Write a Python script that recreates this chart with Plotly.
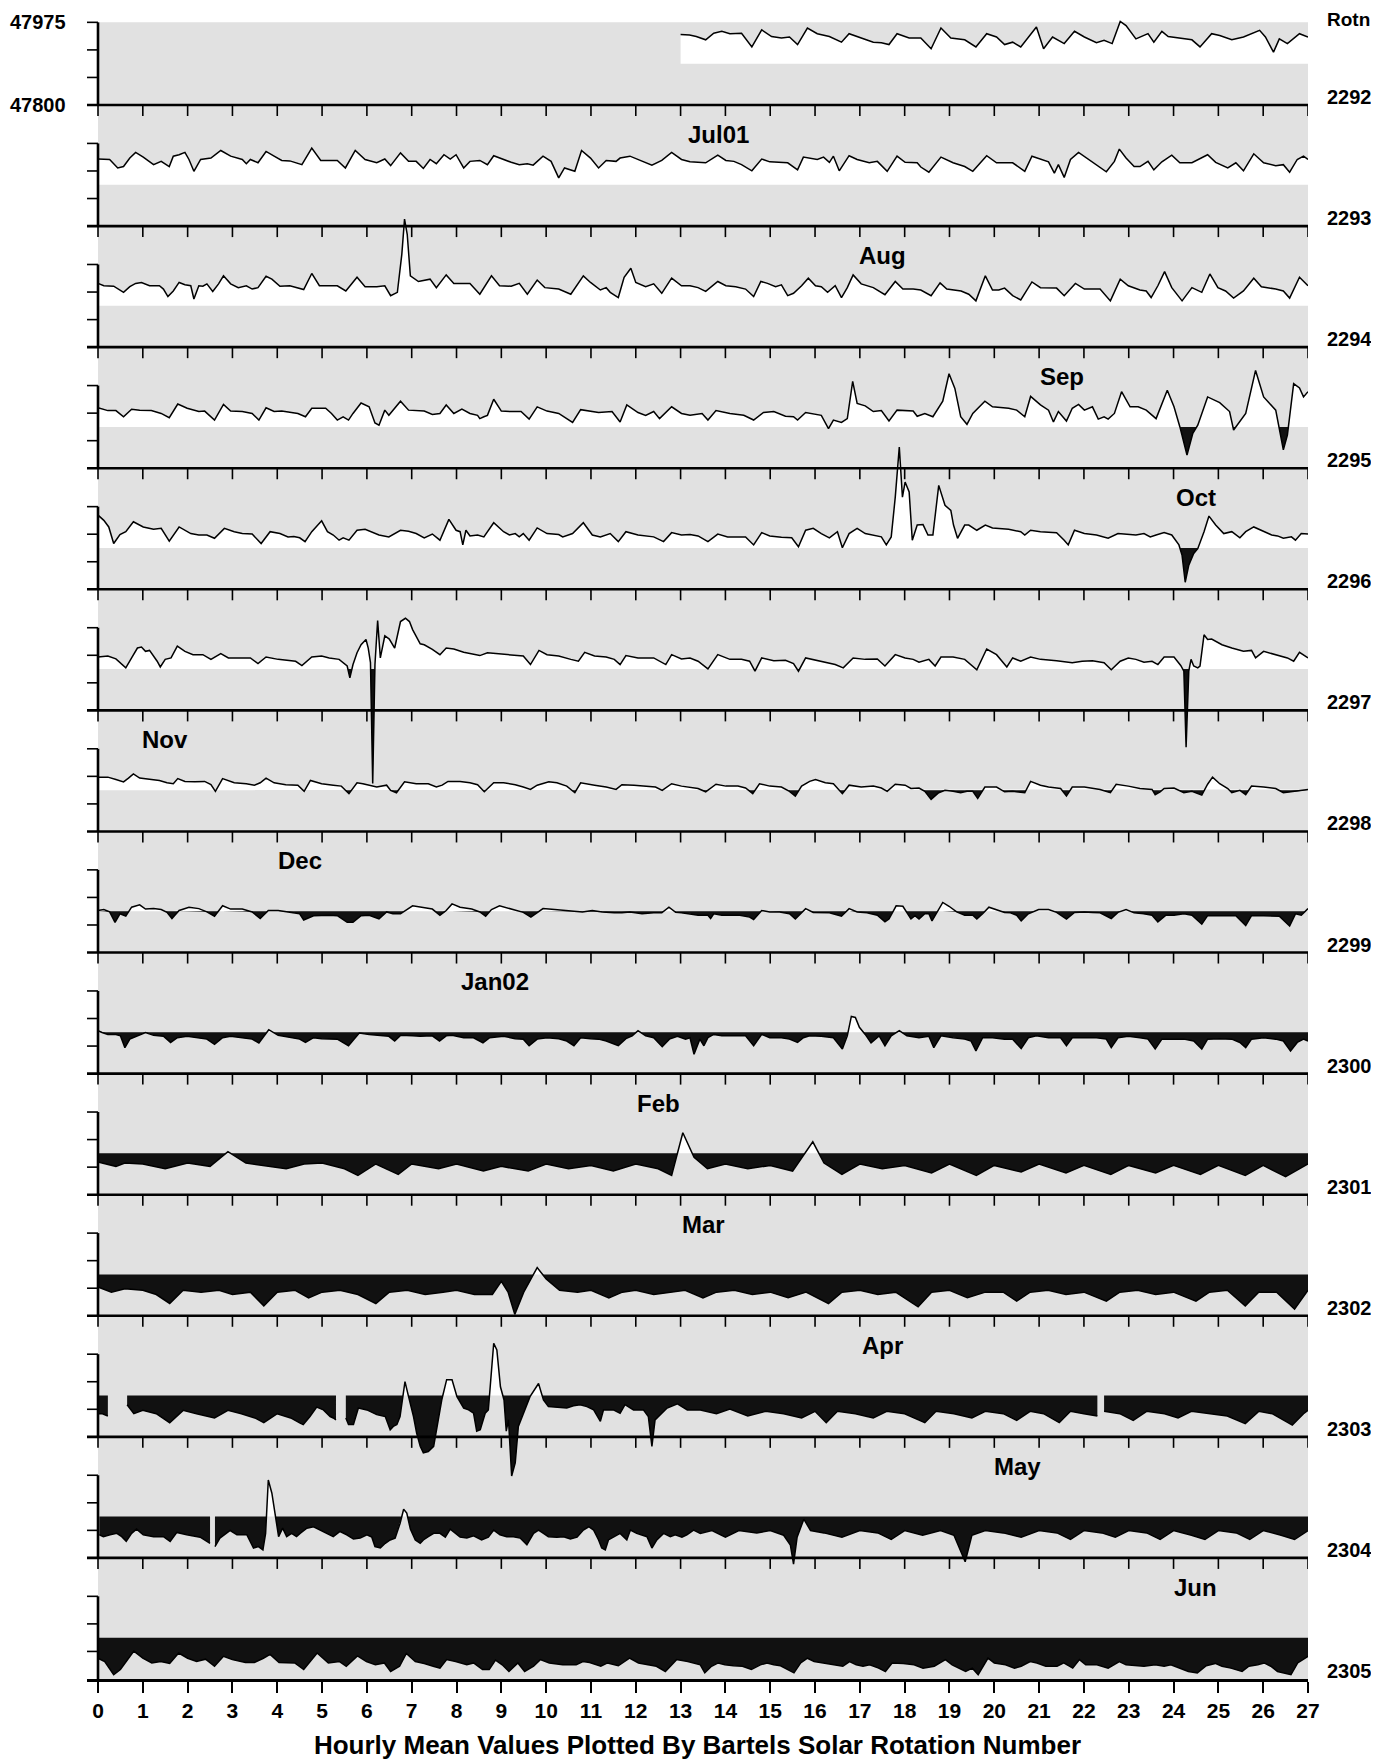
import plotly.graph_objects as go

# ---------------- data: hourly mean values (nT), read as (day, value) keypoints; None = data gap
rot2291 = [(13.0,47949),(13.2,47948),(13.35,47945),(13.56,47938),(13.74,47952),(13.92,47956),(14.1,47951),(14.36,47952),(14.59,47923),(14.81,47959),(15.03,47945),(15.25,47942),(15.43,47944),(15.61,47928),(15.83,47963),(16.05,47951),(16.32,47945),(16.59,47933),(16.76,47951),(16.94,47945),(17.12,47938),(17.3,47933),(17.48,47932),(17.65,47928),(17.83,47951),(18.1,47942),(18.36,47942),(18.59,47919),(18.81,47963),(19.03,47942),(19.34,47938),(19.59,47923),(19.83,47951),(20.05,47944),(20.23,47928),(20.41,47933),(20.59,47923),(20.81,47951),(20.94,47965),(21.1,47919),(21.3,47944),(21.56,47930),(21.79,47956),(22.01,47944),(22.28,47932),(22.45,47937),(22.63,47930),(22.81,47977),(22.94,47968),(23.16,47940),(23.43,47951),(23.56,47933),(23.74,47956),(23.88,47945),(24.23,47940),(24.41,47938),(24.59,47923),(24.85,47951),(25.03,47947),(25.3,47938),(25.56,47944),(25.79,47952),(25.92,47958),(26.05,47944),(26.23,47912),(26.36,47940),(26.54,47930),(26.81,47951),(27.0,47944)]

rot2292 = [(0.0,47942),(0.26,47941),(0.44,47923),(0.57,47926),(0.71,47944),(0.84,47956),(1.01,47946),(1.24,47930),(1.41,47937),(1.59,47926),(1.68,47948),(1.81,47951),(1.94,47956),(2.03,47941),(2.14,47916),(2.29,47941),(2.52,47944),(2.74,47960),(2.96,47948),(3.22,47941),(3.31,47932),(3.4,47941),(3.57,47934),(3.75,47958),(3.93,47948),(4.1,47939),(4.28,47938),(4.55,47930),(4.77,47965),(4.97,47939),(5.34,47939),(5.52,47923),(5.74,47960),(5.96,47941),(6.22,47934),(6.4,47942),(6.53,47928),(6.75,47955),(6.93,47937),(7.1,47937),(7.26,47922),(7.41,47941),(7.55,47932),(7.72,47951),(7.86,47942),(7.99,47951),(8.16,47923),(8.3,47937),(8.52,47939),(8.69,47930),(8.83,47949),(9.05,47941),(9.22,47935),(9.4,47930),(9.58,47932),(9.71,47929),(9.93,47948),(10.11,47937),(10.28,47902),(10.41,47923),(10.64,47916),(10.79,47960),(10.99,47944),(11.17,47923),(11.34,47939),(11.56,47937),(11.65,47944),(11.87,47948),(12.14,47938),(12.36,47929),(12.58,47939),(12.8,47956),(13.02,47941),
           (13.21,47936),(13.56,47934),(13.83,47950),(14.01,47939),(14.19,47937),(14.36,47930),(14.59,47917),(14.81,47942),(14.99,47936),(15.39,47934),(15.61,47919),(15.74,47946),(15.88,47944),(16.05,47941),(16.19,47946),(16.32,47935),(16.41,47948),(16.54,47917),(16.76,47949),(16.94,47941),(17.21,47934),(17.39,47937),(17.61,47916),(17.83,47948),(18.01,47935),(18.28,47934),(18.36,47925),(18.54,47914),(18.81,47946),(19.08,47934),(19.34,47926),(19.52,47916),(19.83,47949),(20.05,47934),(20.41,47934),(20.68,47916),(20.84,47948),(21.03,47941),(21.21,47936),(21.34,47912),(21.43,47930),(21.56,47903),(21.7,47941),(21.88,47956),(22.1,47941),(22.28,47930),(22.5,47915),(22.68,47937),(22.79,47963),(22.94,47944),(23.12,47926),(23.25,47926),(23.43,47937),(23.56,47919),(23.74,47936),(23.96,47950),(24.14,47934),(24.41,47934),(24.76,47951),(24.94,47935),(25.21,47923),(25.39,47934),(25.56,47917),(25.79,47953),(26.01,47934),(26.28,47928),(26.45,47930),(26.59,47914),(26.76,47941),(26.9,47948),(27.0,47941)]

rot2293 = [(0.0,47935),(0.13,47930),(0.35,47929),(0.49,47921),(0.57,47916),(0.71,47928),(0.84,47935),(0.97,47937),(1.15,47930),(1.37,47930),(1.46,47923),(1.56,47907),(1.68,47919),(1.81,47937),(1.94,47932),(2.07,47930),(2.14,47902),(2.25,47930),(2.34,47929),(2.43,47934),(2.56,47918),(2.69,47934),(2.8,47951),(2.96,47934),(3.13,47926),(3.31,47930),(3.44,47923),(3.57,47926),(3.75,47950),(3.88,47944),(4.06,47929),(4.28,47930),(4.46,47925),(4.59,47922),(4.77,47956),(4.94,47930),(5.34,47930),(5.53,47919),(5.78,47948),(5.96,47928),(6.22,47928),(6.4,47930),(6.53,47909),(6.68,47916),(6.78,47997),(6.84,48071),(6.9,48039),(6.97,47951),(7.15,47939),(7.41,47944),(7.55,47926),(7.77,47953),(7.94,47935),(8.3,47935),(8.52,47912),(8.78,47951),(8.96,47930),(9.22,47929),(9.4,47935),(9.58,47912),(9.8,47942),(9.97,47926),(10.28,47923),(10.55,47912),(10.83,47951),(10.99,47937),(11.21,47921),(11.34,47926),(11.43,47916),(11.61,47905),(11.74,47948),(11.89,47967),(12.0,47937),(12.22,47928),(12.4,47934),(12.58,47914),(12.8,47946),(13.02,47930),
           (13.21,47930),(13.39,47926),(13.56,47918),(13.83,47939),(14.01,47930),(14.23,47928),(14.45,47923),(14.63,47907),(14.79,47939),(14.94,47935),(15.12,47928),(15.25,47932),(15.39,47909),(15.52,47914),(15.7,47930),(15.85,47946),(16.01,47930),(16.14,47928),(16.28,47916),(16.45,47930),(16.59,47905),(16.72,47926),(16.85,47953),(17.03,47934),(17.3,47926),(17.56,47911),(17.79,47939),(17.96,47923),(18.19,47923),(18.36,47921),(18.59,47909),(18.79,47936),(18.94,47923),(19.26,47919),(19.43,47912),(19.59,47898),(19.8,47951),(19.96,47921),(20.1,47921),(20.23,47925),(20.41,47909),(20.59,47900),(20.84,47938),(21.03,47926),(21.39,47925),(21.56,47909),(21.81,47935),(22.01,47923),(22.36,47923),(22.59,47898),(22.81,47944),(22.99,47930),(23.25,47921),(23.39,47919),(23.5,47905),(23.65,47930),(23.8,47960),(23.96,47926),(24.19,47898),(24.41,47926),(24.63,47916),(24.81,47955),(24.99,47926),(25.16,47919),(25.34,47904),(25.56,47919),(25.79,47946),(25.96,47928),(26.28,47923),(26.45,47919),(26.59,47904),(26.81,47948),(27.0,47930)]

rot2294 = [(0.0,47928),(0.22,47922),(0.4,47922),(0.57,47909),(0.75,47925),(0.93,47923),(1.19,47922),(1.41,47916),(1.59,47907),(1.78,47936),(1.99,47927),(2.25,47920),(2.38,47921),(2.6,47902),(2.8,47935),(2.96,47921),(3.22,47920),(3.44,47916),(3.59,47902),(3.75,47928),(3.93,47920),(4.1,47921),(4.46,47916),(4.63,47909),(4.77,47927),(4.94,47927),(5.08,47927),(5.21,47916),(5.34,47902),(5.47,47909),(5.59,47902),(5.69,47916),(5.87,47938),(6.05,47930),(6.18,47896),(6.27,47891),(6.4,47923),(6.49,47912),(6.75,47942),(6.93,47923),(7.28,47921),(7.46,47914),(7.63,47916),(7.77,47934),(7.94,47916),(8.12,47925),(8.3,47916),(8.47,47912),(8.52,47905),(8.61,47909),(8.69,47912),(8.83,47946),(9.0,47921),(9.22,47920),(9.44,47920),(9.62,47904),(9.8,47930),(10.02,47921),(10.28,47916),(10.59,47897),(10.77,47924),(11.17,47918),(11.47,47920),(11.65,47898),(11.8,47934),(12.05,47918),(12.22,47912),(12.4,47920),(12.53,47905),(12.8,47930),(13.02,47916),
           (13.21,47912),(13.48,47916),(13.61,47902),(13.79,47922),(14.1,47916),(14.41,47912),(14.63,47902),(14.85,47918),(15.08,47920),(15.34,47910),(15.52,47909),(15.61,47902),(15.79,47918),(16.14,47912),(16.3,47884),(16.41,47902),(16.59,47897),(16.72,47905),(16.84,47984),(16.94,47937),(17.12,47932),(17.3,47920),(17.48,47922),(17.65,47900),(17.83,47923),(18.19,47921),(18.28,47910),(18.45,47916),(18.63,47909),(18.85,47942),(18.99,48000),(19.12,47969),(19.25,47909),(19.39,47893),(19.52,47916),(19.79,47942),(19.96,47930),(20.32,47927),(20.5,47923),(20.68,47909),(20.81,47952),(21.03,47934),(21.21,47923),(21.32,47898),(21.43,47920),(21.61,47900),(21.74,47927),(21.88,47935),(22.01,47923),(22.19,47930),(22.32,47904),(22.45,47909),(22.54,47904),(22.68,47916),(22.84,47962),(23.03,47930),(23.21,47930),(23.39,47923),(23.61,47905),(23.86,47965),(24.01,47930),(24.14,47888),(24.3,47828),(24.43,47874),(24.54,47891),(24.76,47951),(25.03,47939),(25.25,47920),(25.34,47881),(25.48,47900),(25.61,47916),(25.83,48007),(26.01,47951),(26.28,47923),(26.45,47839),(26.54,47870),(26.68,47979),(26.81,47970),(26.9,47951),(27.0,47962)]

rot2295 = [(0.0,47957),(0.13,47946),(0.24,47932),(0.35,47897),(0.49,47916),(0.62,47922),(0.79,47943),(1.01,47932),(1.24,47927),(1.41,47929),(1.59,47902),(1.81,47932),(2.07,47918),(2.25,47915),(2.43,47915),(2.6,47908),(2.82,47929),(3.04,47922),(3.22,47918),(3.44,47917),(3.64,47897),(3.84,47922),(4.06,47918),(4.24,47911),(4.37,47912),(4.5,47909),(4.62,47901),(4.77,47922),(4.99,47945),(5.12,47922),(5.25,47915),(5.38,47904),(5.47,47909),(5.6,47904),(5.78,47925),(5.96,47927),(6.27,47915),(6.49,47911),(6.75,47925),(6.93,47923),(7.1,47918),(7.28,47909),(7.46,47917),(7.63,47904),(7.83,47948),(7.99,47925),(8.08,47922),(8.14,47894),(8.21,47925),(8.3,47913),(8.47,47915),(8.61,47911),(8.83,47941),(9.05,47922),(9.18,47915),(9.31,47918),(9.4,47911),(9.49,47918),(9.62,47904),(9.8,47930),(10.02,47918),(10.28,47916),(10.37,47911),(10.59,47918),(10.83,47941),(11.03,47915),(11.21,47911),(11.43,47918),(11.61,47901),(11.78,47922),(12.05,47915),(12.4,47911),(12.62,47901),(12.8,47920),(13.02,47915),
           (13.21,47916),(13.39,47913),(13.61,47901),(13.83,47917),(14.05,47911),(14.28,47911),(14.45,47911),(14.63,47894),(14.81,47920),(14.99,47913),(15.25,47910),(15.48,47909),(15.63,47890),(15.79,47925),(15.96,47929),(16.14,47918),(16.32,47909),(16.5,47922),(16.61,47888),(16.76,47918),(16.94,47929),(17.12,47918),(17.3,47915),(17.48,47911),(17.59,47894),(17.7,47911),(17.79,47995),(17.88,48101),(17.95,47995),(18.01,48027),(18.1,48006),(18.17,47904),(18.28,47936),(18.41,47937),(18.52,47915),(18.63,47915),(18.76,48020),(18.9,47978),(19.03,47967),(19.09,47936),(19.18,47908),(19.34,47936),(19.43,47936),(19.61,47925),(19.8,47936),(19.96,47930),(20.32,47927),(20.59,47922),(20.68,47915),(20.81,47925),(21.03,47922),(21.39,47920),(21.56,47904),(21.65,47894),(21.79,47925),(22.01,47918),(22.28,47915),(22.54,47908),(22.76,47918),(22.99,47916),(23.16,47915),(23.34,47918),(23.48,47911),(23.61,47915),(23.79,47920),(23.96,47915),(24.12,47894),(24.19,47872),(24.26,47815),(24.34,47851),(24.45,47876),(24.54,47886),(24.68,47922),(24.79,47955),(24.94,47936),(25.12,47918),(25.3,47922),(25.48,47909),(25.61,47922),(25.79,47932),(25.96,47925),(26.19,47915),(26.32,47913),(26.45,47908),(26.63,47911),(26.72,47904),(26.85,47918),(27.0,47917)]

rot2296 = [(0.0,47913),(0.22,47915),(0.4,47909),(0.62,47890),(0.75,47911),(0.88,47932),(0.97,47934),(1.06,47925),(1.15,47927),(1.24,47915),(1.32,47904),(1.39,47892),(1.5,47908),(1.63,47911),(1.77,47936),(1.94,47925),(2.12,47918),(2.34,47918),(2.52,47908),(2.74,47920),(2.91,47911),(3.18,47911),(3.4,47911),(3.57,47899),(3.75,47913),(4.02,47908),(4.28,47906),(4.41,47904),(4.55,47895),(4.77,47913),(4.99,47915),(5.16,47911),(5.38,47908),(5.56,47894),(5.62,47869),(5.69,47897),(5.78,47922),(5.87,47939),(5.98,47950),(6.03,47932),(6.08,47901),(6.13,47645),(6.18,47897),(6.24,47990),(6.3,47911),(6.4,47958),(6.5,47951),(6.62,47932),(6.75,47988),(6.86,47995),(6.95,47988),(7.02,47971),(7.19,47941),(7.28,47939),(7.46,47929),(7.63,47918),(7.77,47932),(7.94,47930),(8.16,47923),(8.52,47916),(8.69,47922),(8.96,47920),(9.22,47918),(9.49,47915),(9.65,47897),(9.84,47927),(10.02,47918),(10.28,47915),(10.55,47908),(10.72,47904),(10.86,47923),(11.08,47915),(11.34,47913),(11.52,47908),(11.65,47897),(11.78,47916),(12.05,47911),(12.4,47911),(12.67,47897),(12.8,47918),(13.02,47909),
           (13.21,47911),(13.39,47904),(13.61,47888),(13.83,47918),(14.1,47908),(14.36,47908),(14.54,47904),(14.66,47883),(14.81,47911),(15.08,47905),(15.34,47906),(15.52,47899),(15.63,47883),(15.79,47911),(16.05,47906),(16.32,47901),(16.45,47897),(16.63,47890),(16.85,47911),(17.12,47908),(17.39,47909),(17.56,47894),(17.79,47918),(18.01,47911),(18.19,47908),(18.32,47902),(18.54,47908),(18.68,47894),(18.81,47913),(19.08,47913),(19.34,47908),(19.61,47886),(19.83,47930),(20.05,47918),(20.28,47892),(20.41,47911),(20.59,47904),(20.81,47913),(21.03,47908),(21.39,47905),(21.74,47901),(21.96,47904),(22.19,47905),(22.45,47901),(22.61,47886),(22.81,47904),(22.99,47911),(23.16,47908),(23.34,47902),(23.52,47904),(23.65,47897),(23.79,47913),(24.01,47913),(24.16,47895),(24.23,47883),(24.28,47722),(24.34,47883),(24.39,47908),(24.45,47894),(24.54,47890),(24.59,47894),(24.68,47960),(24.76,47950),(24.85,47951),(25.08,47939),(25.3,47932),(25.56,47925),(25.74,47927),(25.83,47911),(26.01,47925),(26.28,47918),(26.54,47911),(26.68,47904),(26.81,47923),(27.0,47911)]

rot2297 = [(0.0,47915),(0.22,47915),(0.4,47910),(0.57,47905),(0.68,47913),(0.79,47922),(0.93,47913),(1.15,47910),(1.37,47908),(1.54,47903),(1.68,47901),(1.78,47912),(1.94,47906),(2.16,47905),(2.38,47906),(2.52,47899),(2.62,47885),(2.78,47912),(3.04,47903),(3.31,47901),(3.49,47898),(3.62,47903),(3.75,47913),(3.93,47903),(4.19,47899),(4.46,47898),(4.6,47885),(4.74,47908),(4.99,47901),(5.25,47898),(5.43,47896),(5.6,47880),(5.78,47903),(5.91,47901),(6.22,47894),(6.44,47898),(6.53,47887),(6.66,47882),(6.84,47905),(7.1,47901),(7.37,47901),(7.55,47894),(7.68,47898),(7.81,47906),(8.08,47906),(8.3,47903),(8.47,47899),(8.62,47884),(8.83,47903),(9.05,47903),(9.31,47899),(9.49,47894),(9.65,47889),(9.8,47898),(10.06,47905),(10.24,47903),(10.46,47896),(10.64,47882),(10.77,47903),(11.08,47898),(11.34,47894),(11.56,47889),(11.69,47899),(11.96,47898),(12.22,47896),(12.44,47894),(12.59,47887),(12.8,47901),(13.02,47896),
           (13.21,47894),(13.39,47891),(13.56,47884),(13.79,47900),(14.01,47896),(14.28,47896),(14.45,47892),(14.61,47880),(14.76,47901),(14.99,47896),(15.25,47894),(15.43,47885),(15.56,47875),(15.7,47896),(15.88,47906),(16.01,47910),(16.23,47903),(16.41,47901),(16.61,47880),(16.76,47898),(17.03,47894),(17.3,47896),(17.48,47892),(17.61,47885),(17.79,47900),(18.01,47898),(18.14,47891),(18.32,47892),(18.45,47885),(18.59,47868),(18.76,47882),(18.9,47887),(19.08,47885),(19.25,47882),(19.39,47885),(19.52,47885),(19.63,47870),(19.79,47894),(20.05,47894),(20.23,47884),(20.41,47885),(20.68,47882),(20.81,47906),(21.03,47898),(21.21,47894),(21.48,47891),(21.61,47875),(21.74,47894),(22.01,47894),(22.19,47891),(22.36,47889),(22.59,47882),(22.72,47900),(22.99,47896),(23.25,47891),(23.52,47889),(23.59,47878),(23.7,47884),(23.79,47891),(24.01,47892),(24.23,47882),(24.41,47885),(24.63,47877),(24.76,47900),(24.87,47915),(25.03,47901),(25.21,47891),(25.3,47882),(25.48,47887),(25.61,47878),(25.74,47896),(26.01,47894),(26.28,47891),(26.45,47882),(26.63,47884),(26.81,47887),(27.0,47889)]

rot2298 = [(0.0,47889),(0.13,47891),(0.26,47886),(0.38,47864),(0.49,47882),(0.62,47877),(0.75,47896),(0.93,47901),(1.06,47892),(1.24,47893),(1.41,47891),(1.54,47885),(1.65,47872),(1.81,47889),(2.03,47896),(2.25,47893),(2.43,47886),(2.6,47877),(2.78,47899),(2.96,47892),(3.22,47892),(3.44,47886),(3.62,47872),(3.8,47889),(4.02,47889),(4.28,47886),(4.5,47882),(4.59,47869),(4.81,47878),(5.16,47879),(5.34,47878),(5.56,47864),(5.69,47864),(5.87,47878),(6.05,47879),(6.27,47871),(6.44,47886),(6.58,47882),(6.75,47882),(7.02,47899),(7.19,47896),(7.46,47892),(7.63,47879),(7.77,47889),(7.9,47903),(8.08,47896),(8.34,47892),(8.52,47886),(8.65,47877),(8.78,47891),(8.96,47899),(9.22,47892),(9.49,47885),(9.66,47875),(9.93,47893),(10.19,47891),(10.55,47889),(10.81,47886),(11.03,47889),(11.25,47886),(11.52,47884),(11.69,47884),(11.87,47886),(12.14,47882),(12.4,47884),(12.58,47884),(12.74,47896),(12.89,47885),(13.02,47884),
           (13.21,47882),(13.39,47879),(13.61,47879),(13.67,47872),(13.74,47882),(13.92,47879),(14.1,47879),(14.32,47879),(14.54,47875),(14.63,47870),(14.81,47889),(14.99,47886),(15.21,47886),(15.43,47882),(15.56,47871),(15.79,47893),(15.96,47885),(16.32,47884),(16.59,47877),(16.76,47893),(16.94,47886),(17.16,47884),(17.39,47879),(17.56,47865),(17.65,47871),(17.81,47899),(17.96,47898),(18.05,47885),(18.14,47871),(18.23,47878),(18.32,47871),(18.45,47882),(18.54,47882),(18.61,47867),(18.7,47882),(18.85,47906),(18.99,47898),(19.16,47886),(19.34,47879),(19.52,47879),(19.61,47871),(19.74,47882),(19.88,47896),(20.05,47891),(20.23,47885),(20.36,47884),(20.5,47879),(20.6,47867),(20.76,47882),(20.99,47891),(21.21,47891),(21.39,47885),(21.61,47871),(21.79,47885),(22.01,47886),(22.19,47885),(22.36,47884),(22.61,47872),(22.76,47885),(22.94,47891),(23.12,47884),(23.34,47882),(23.52,47879),(23.65,47865),(23.83,47879),(24.01,47879),(24.23,47882),(24.41,47879),(24.63,47860),(24.76,47878),(24.94,47878),(25.12,47878),(25.39,47878),(25.61,47857),(25.74,47878),(26.01,47878),(26.36,47877),(26.59,47856),(26.72,47882),(26.85,47879),(27.0,47893)]

rot2299 = [(0.0,47891),(0.09,47887),(0.22,47883),(0.4,47883),(0.5,47880),(0.6,47855),(0.71,47873),(0.88,47880),(1.06,47887),(1.24,47881),(1.46,47879),(1.62,47866),(1.77,47876),(1.99,47879),(2.25,47876),(2.43,47873),(2.6,47862),(2.78,47876),(2.96,47879),(3.22,47876),(3.44,47873),(3.59,47865),(3.71,47880),(3.81,47893),(4.02,47881),(4.28,47876),(4.5,47873),(4.63,47866),(4.81,47876),(4.99,47874),(5.34,47873),(5.59,47859),(5.71,47873),(5.83,47886),(6.05,47883),(6.31,47881),(6.49,47879),(6.62,47869),(6.75,47881),(7.02,47880),(7.19,47879),(7.46,47880),(7.62,47869),(7.77,47880),(7.9,47881),(8.16,47876),(8.38,47876),(8.59,47865),(8.74,47876),(9.05,47879),(9.31,47874),(9.49,47873),(9.62,47859),(9.8,47873),(10.02,47876),(10.28,47874),(10.46,47869),(10.62,47859),(10.77,47876),(10.99,47874),(11.17,47873),(11.34,47869),(11.61,47859),(11.78,47874),(11.92,47880),(12.05,47891),(12.22,47880),(12.4,47876),(12.59,47857),(12.75,47873),(12.93,47879),(13.11,47873),
           (13.21,47876),(13.3,47841),(13.43,47873),(13.52,47859),(13.61,47876),(13.74,47883),(13.92,47880),(14.1,47880),(14.28,47880),(14.45,47880),(14.63,47859),(14.81,47883),(14.99,47876),(15.25,47876),(15.43,47873),(15.61,47866),(15.74,47876),(15.88,47880),(16.14,47879),(16.41,47876),(16.61,47852),(16.72,47880),(16.81,47921),(16.9,47919),(16.99,47898),(17.12,47883),(17.25,47865),(17.43,47880),(17.56,47859),(17.7,47880),(17.88,47891),(18.05,47880),(18.32,47876),(18.54,47879),(18.65,47855),(18.81,47880),(19.08,47876),(19.34,47873),(19.48,47869),(19.59,47848),(19.74,47876),(19.96,47876),(20.23,47873),(20.41,47873),(20.6,47853),(20.76,47876),(20.94,47880),(21.21,47876),(21.48,47876),(21.61,47859),(21.74,47876),(22.01,47876),(22.28,47876),(22.5,47873),(22.61,47855),(22.76,47876),(22.99,47879),(23.25,47876),(23.43,47873),(23.59,47852),(23.74,47873),(23.96,47873),(24.23,47873),(24.45,47869),(24.63,47852),(24.76,47873),(25.03,47874),(25.3,47873),(25.48,47866),(25.61,47855),(25.74,47873),(26.01,47876),(26.28,47873),(26.45,47869),(26.61,47848),(26.76,47866),(26.9,47873),(27.0,47869)]

rot2300 = [(0.0,47869),(0.4,47860),(0.6,47867),(1.0,47865),(1.5,47855),(2.0,47867),(2.5,47860),(2.9,47891),(3.3,47867),(3.8,47860),(4.2,47855),(4.6,47865),(5.0,47867),(5.5,47855),(5.8,47841),(6.2,47865),(6.7,47843),(7.0,47865),(7.6,47855),(8.0,47865),(8.6,47850),(9.0,47860),(9.6,47850),(10.0,47865),(10.5,47855),(11.0,47862),(11.5,47850),(12.0,47865),(12.5,47855),(12.8,47841),(13.05,47931),(13.3,47879),(13.6,47855),(14.0,47865),(14.5,47855),(15.0,47862),(15.5,47850),(15.95,47912),(16.2,47867),(16.6,47843),(17.0,47865),(17.5,47855),(18.0,47862),(18.6,47846),(19.0,47865),(19.6,47841),(20.0,47862),(20.6,47848),(21.0,47865),(21.6,47846),(22.0,47862),(22.6,47843),(23.0,47862),(23.6,47846),(24.0,47862),(24.6,47843),(25.0,47862),(25.6,47841),(26.0,47862),(26.5,47838),(26.8,47855),(27.0,47865)]

rot2301 = [(0.0,47861),(0.3,47850),(0.6,47857),(1.0,47854),(1.3,47845),(1.6,47826),(1.9,47854),(2.3,47850),(2.7,47854),(3.0,47845),(3.4,47850),(3.7,47821),(4.0,47850),(4.4,47854),(4.7,47838),(5.0,47850),(5.4,47854),(5.8,47845),(6.2,47826),(6.5,47850),(6.9,47854),(7.3,47845),(7.7,47850),(8.0,47854),(8.4,47845),(8.8,47845),(9.0,47873),(9.15,47850),(9.3,47803),(9.5,47850),(9.8,47902),(10.0,47878),(10.3,47854),(10.7,47850),(11.0,47854),(11.4,47838),(11.7,47850),(12.0,47854),(12.4,47845),(12.8,47850),(13.1,47854),(13.5,47838),(13.8,47850),(14.2,47854),(14.6,47845),(15.0,47850),(15.4,47838),(15.8,47850),(16.3,47826),(16.6,47850),(17.0,47854),(17.4,47845),(17.8,47850),(18.3,47819),(18.6,47850),(19.0,47854),(19.4,47838),(19.8,47850),(20.2,47850),(20.5,47831),(20.8,47850),(21.2,47854),(21.6,47845),(22.0,47850),(22.5,47831),(22.8,47850),(23.2,47854),(23.6,47845),(24.0,47850),(24.5,47831),(24.8,47850),(25.2,47854),(25.6,47821),(25.9,47850),(26.3,47850),(26.7,47814),(27.0,47854)]

rot2302 = [(0.0,47849),(0.1,47849),(0.22,47844),None,
           (0.65,47868),(0.8,47849),(1.0,47856),(1.3,47849),(1.6,47830),(1.9,47856),(2.2,47849),(2.6,47840),(2.9,47856),(3.2,47849),(3.5,47840),(3.7,47830),(4.0,47849),(4.3,47840),(4.51,47829),(4.58,47826),(4.73,47843),(4.88,47863),(5.03,47857),(5.18,47843),(5.25,47840),(5.31,47836),None,
           (5.53,47840),(5.59,47826),(5.7,47826),(5.81,47861),(6.0,47857),(6.22,47847),(6.41,47843),(6.52,47815),(6.59,47822),(6.67,47826),(6.74,47843),(6.85,47917),(6.93,47885),(7.04,47843),(7.11,47808),(7.19,47780),(7.26,47766),(7.37,47769),(7.49,47780),(7.56,47822),(7.67,47878),(7.78,47921),(7.9,47921),(8.01,47885),(8.16,47861),(8.27,47857),(8.38,47850),(8.45,47812),(8.53,47815),(8.64,47850),(8.71,47857),(8.83,47998),(8.9,47984),(8.98,47906),(9.06,47878),(9.11,47812),(9.16,47836),(9.23,47717),(9.31,47745),(9.38,47822),(9.49,47850),(9.64,47885),(9.83,47913),(9.94,47878),(10.05,47864),(10.16,47863),(10.39,47861),(10.46,47861),(10.61,47866),(10.76,47868),(10.91,47864),(11.06,47857),(11.21,47833),(11.28,47857),(11.5,47857),(11.65,47850),(11.76,47868),(11.95,47857),(12.17,47857),(12.28,47843),(12.36,47780),(12.43,47836),(12.7,47861),(12.93,47870),(13.15,47857),(13.44,47857),(13.8,47849),(14.1,47859),(14.5,47844),(14.9,47854),(15.3,47849),(15.7,47840),(16.0,47854),(16.25,47830),(16.5,47854),(16.9,47849),(17.3,47840),(17.6,47854),(18.0,47849),(18.45,47830),(18.7,47854),(19.1,47849),(19.5,47840),(19.8,47854),(20.2,47849),(20.5,47835),(20.8,47854),(21.1,47849),(21.45,47830),(21.7,47854),(22.0,47849),(22.3,47844),None,
           (22.45,47854),(22.8,47849),(23.1,47835),(23.4,47854),(23.8,47849),(24.1,47840),(24.4,47854),(24.8,47849),(25.2,47844),(25.6,47828),(25.9,47854),(26.2,47849),(26.65,47825),(26.9,47849),(27.0,47856)]

rot2303 = [(0.03,47849),(0.12,47845),(0.27,47849),(0.42,47852),(0.53,47845),(0.63,47835),(0.75,47852),(0.86,47861),(1.01,47849),(1.24,47845),(1.46,47845),(1.61,47835),(1.76,47854),(1.98,47849),(2.28,47844),(2.5,47831),None,
           (2.61,47824),(2.72,47842),(2.95,47858),(3.1,47849),(3.32,47849),(3.47,47821),(3.58,47824),(3.68,47817),(3.74,47852),(3.8,47965),(3.88,47937),(3.95,47895),(4.03,47845),(4.12,47863),(4.21,47845),(4.32,47852),(4.43,47845),(4.51,47852),(4.66,47863),(4.81,47866),(4.96,47859),(5.11,47852),(5.25,47845),(5.4,47856),(5.55,47849),(5.7,47840),(5.85,47842),(6.0,47849),(6.11,47844),(6.18,47824),(6.3,47821),(6.41,47831),(6.52,47838),(6.63,47842),(6.74,47873),(6.82,47903),(6.89,47895),(6.97,47861),(7.08,47838),(7.19,47831),(7.26,47838),(7.37,47845),(7.49,47852),(7.63,47852),(7.75,47844),(7.86,47861),(7.97,47852),(8.08,47844),(8.23,47842),(8.38,47847),(8.56,47838),(8.71,47844),(8.83,47859),(8.97,47849),(9.12,47845),(9.27,47845),(9.42,47842),(9.57,47828),(9.72,47852),(9.83,47859),(9.94,47852),(10.05,47845),(10.24,47844),(10.39,47845),(10.54,47840),(10.69,47844),(10.83,47859),(10.95,47866),(11.06,47859),(11.17,47838),(11.24,47821),(11.32,47817),(11.39,47838),(11.5,47844),(11.65,47852),(11.8,47838),(11.88,47859),(12.02,47852),(12.25,47845),(12.36,47821),(12.47,47838),(12.62,47852),(12.77,47845),(12.88,47849),(13.03,47844),(13.14,47849),(13.29,47859),(13.44,47852),(13.7,47858),(14.0,47844),(14.3,47858),(14.7,47853),(15.0,47858),(15.3,47848),(15.45,47827),(15.52,47787),(15.6,47844),(15.75,47882),(15.9,47858),(16.2,47853),(16.6,47844),(17.0,47858),(17.4,47853),(17.7,47839),(18.0,47858),(18.4,47848),(18.8,47858),(19.1,47848),(19.35,47792),(19.5,47848),(19.8,47858),(20.2,47853),(20.6,47844),(21.0,47858),(21.4,47853),(21.7,47839),(22.0,47858),(22.4,47853),(22.7,47844),(23.0,47858),(23.4,47853),(23.7,47839),(24.0,47858),(24.4,47848),(24.7,47839),(25.0,47858),(25.4,47853),(25.7,47839),(26.0,47858),(26.4,47848),(26.7,47839),(27.0,47858)]

rot2304 = [(0.0,47844),(0.15,47837),(0.35,47809),(0.5,47820),(0.8,47859),(1.0,47844),(1.2,47834),(1.4,47837),(1.6,47833),(1.8,47855),(2.0,47844),(2.2,47837),(2.4,47842),(2.6,47827),(2.8,47848),(3.0,47841),(3.29,47835),(3.49,47835),(3.69,47844),(3.84,47852),(4.04,47835),(4.39,47834),(4.59,47820),(4.89,47855),(5.14,47834),(5.39,47837),(5.54,47827),(5.79,47849),(5.99,47837),(6.19,47830),(6.39,47834),(6.53,47816),(6.73,47827),(6.88,47854),(7.08,47837),(7.28,47833),(7.48,47827),(7.63,47823),(7.78,47841),(7.98,47837),(8.23,47830),(8.38,47834),(8.58,47820),(8.73,47820),(8.87,47840),(9.02,47830),(9.17,47816),(9.37,47834),(9.52,47816),(9.72,47827),(9.87,47841),(10.07,47834),(10.37,47830),(10.67,47830),(10.82,47837),(10.97,47835),(11.22,47827),(11.37,47834),(11.61,47828),(11.86,47844),(12.06,47834),(12.46,47827),(12.66,47816),(12.91,47841),(13.16,47837),(13.44,47830),
           (13.54,47813),(13.69,47827),(13.84,47834),(13.99,47830),(14.18,47828),(14.38,47827),(14.58,47820),(14.78,47830),(14.93,47834),(15.08,47830),(15.23,47828),(15.38,47820),(15.53,47813),(15.68,47834),(15.83,47844),(15.98,47837),(16.17,47834),(16.37,47830),(16.62,47827),(16.77,47837),(16.92,47830),(17.07,47827),(17.22,47830),(17.42,47823),(17.57,47816),(17.72,47834),(17.97,47833),(18.21,47830),(18.41,47823),(18.66,47827),(18.91,47841),(19.06,47830),(19.21,47823),(19.36,47816),(19.51,47823),(19.64,47809),(19.86,47844),(20.0,47834),(20.25,47830),(20.45,47823),(20.6,47827),(20.8,47837),(20.95,47834),(21.15,47827),(21.4,47827),(21.55,47834),(21.75,47823),(21.9,47841),(22.04,47830),(22.29,47830),(22.54,47823),(22.79,47837),(22.94,47830),(23.14,47828),(23.34,47827),(23.59,47830),(23.79,47827),(23.94,47830),(24.13,47823),(24.33,47816),(24.53,47813),(24.73,47828),(24.93,47833),(25.08,47827),(25.28,47823),(25.53,47816),(25.68,47827),(25.88,47830),(26.02,47834),(26.17,47827),(26.32,47816),(26.47,47813),(26.62,47809),(26.77,47834),(26.92,47844),(27.0,47848)]

panels = [rot2291, rot2292, rot2293, rot2294, rot2295, rot2296, rot2297,
          rot2298, rot2299, rot2300, rot2301, rot2302, rot2303, rot2304]
rotation_labels = ["2292", "2293", "2294", "2295", "2296", "2297", "2298",
                   "2299", "2300", "2301", "2302", "2303", "2304", "2305"]
month_labels = ["", "Jul01", "Aug", "Sep", "Oct", "", "Nov", "Dec", "Jan02",
                "Feb", "Mar", "Apr", "May", "Jun"]
month_label_day = [None, 13.84, 17.51, 21.5, 24.5, None, 1.5, 4.51, 8.85,
                   12.51, 13.52, 17.51, 20.52, 24.5]
axis_min_nt = 47800
axis_max_nt = 47975
base_nt = 47887.5
day_ticks = list(range(0, 28))
x_title = "Hourly Mean Values Plotted By Bartels Solar Rotation Number"

# ---------------- geometry / style
PAGE_OFF = 8                      # default <body> margin of the html page
W, H = 1379 - PAGE_OFF, 1762 - PAGE_OFF - 2
PX_PER_DAY = 1210 / 27.0
NT_PER_PX = 175 / 82.67
PANEL_NT = 256.3
PLOT_LEFT_PAGE, PLOT_RIGHT_PAGE = 87, 1308
PLOT_TOP_PAGE, PLOT_BOTTOM_PAGE = 8, 1679
M_L = PLOT_LEFT_PAGE - PAGE_OFF
M_T = PLOT_TOP_PAGE - PAGE_OFF
M_R = W - (PLOT_RIGHT_PAGE - PAGE_OFF)
M_B = H - (PLOT_BOTTOM_PAGE - PAGE_OFF)
FONT = "Liberation Sans, Arial, Helvetica, sans-serif"
GRAY = "#e1e1e1"
BLACK_FILL = "#111111"
n_panels = len(panels)

plot_w = W - M_L - M_R
plot_h = H - M_T - M_B
x_lo = 27 - plot_w / PX_PER_DAY
y_lo = -(n_panels - 1) * PANEL_NT
y_hi = y_lo + plot_h * NT_PER_PX
tick_day = 11 / PX_PER_DAY
tick_nt = 11 * NT_PER_PX


def page_x_to_paper(px):
    return (px - PLOT_LEFT_PAGE) / (PLOT_RIGHT_PAGE - PLOT_LEFT_PAGE)


def py(v, k):
    return v - axis_min_nt - k * PANEL_NT


def segments(data):
    segs, cur = [], []
    for p in data:
        if p is None:
            if cur:
                segs.append(cur)
            cur = []
        else:
            cur.append(p)
    if cur:
        segs.append(cur)
    return segs


def with_crossings(seg, b):
    out = [seg[0]]
    for (x0, v0), (x1, v1) in zip(seg[:-1], seg[1:]):
        if (v0 - b) * (v1 - b) < 0:
            xc = x0 + (b - v0) / (v1 - v0) * (x1 - x0)
            out.append((xc, b))
        out.append((x1, v1))
    return out


fig = go.Figure()
shapes = []

# gray panel backgrounds
for k in range(n_panels):
    top = py(axis_max_nt, 0) if k == 0 else -(k - 1) * PANEL_NT
    shapes.append(dict(type="rect", xref="x", yref="y", x0=0, x1=27,
                       y0=-k * PANEL_NT, y1=top, fillcolor=GRAY,
                       line=dict(width=0), layer="below"))

# fills: white above the baseline, black below it
for k, data in enumerate(panels):
    for kind in ("white", "black"):
        xs, ys = [], []
        for seg in segments(data):
            s = with_crossings(seg, base_nt)
            sx = [p[0] for p in s]
            if kind == "white":
                sv = [max(p[1], base_nt) for p in s]
            else:
                sv = [min(p[1], base_nt) for p in s]
            xs += sx + sx[::-1] + [None]
            ys += [py(v, k) for v in sv] + [py(base_nt, k)] * len(sx) + [None]
        fig.add_trace(go.Scatter(
            x=xs, y=ys, mode="lines", fill="toself",
            fillcolor="white" if kind == "white" else BLACK_FILL,
            line=dict(width=0, color="rgba(0,0,0,0)"),
            hoverinfo="skip", showlegend=False))

# curves
for k, data in enumerate(panels):
    xs, ys = [], []
    for p in data:
        if p is None:
            xs.append(None)
            ys.append(None)
        else:
            xs.append(p[0])
            ys.append(py(p[1], k))
    fig.add_trace(go.Scatter(x=xs, y=ys, mode="lines",
                             line=dict(color="black", width=1.5),
                             hoverinfo="skip", showlegend=False))

# panel frames: bottom lines (extended into the left tick), left axes, ticks
bx, by = [], []
for k in range(n_panels - 1):
    bx += [-tick_day, 27, None]
    by += [-k * PANEL_NT, -k * PANEL_NT, None]
fig.add_trace(go.Scatter(x=bx, y=by, mode="lines",
                         line=dict(color="black", width=2.6),
                         hoverinfo="skip", showlegend=False))
vx, vy = [], []
for k in range(n_panels):
    vx += [0, 0, None]
    vy += [-k * PANEL_NT, -k * PANEL_NT + (axis_max_nt - axis_min_nt), None]
fig.add_trace(go.Scatter(x=vx, y=vy, mode="lines",
                         line=dict(color="black", width=2.6),
                         hoverinfo="skip", showlegend=False))
tx, ty = [], []
step = (axis_max_nt - axis_min_nt) / 3
for k in range(n_panels):
    for j in (1, 2, 3):
        yv = -k * PANEL_NT + j * step
        tx += [-tick_day, 0, None]
        ty += [yv, yv, None]
for k in range(n_panels - 1):
    for d in day_ticks:
        tx += [d, d, None]
        ty += [-k * PANEL_NT, -k * PANEL_NT - tick_nt, None]
fig.add_trace(go.Scatter(x=tx, y=ty, mode="lines",
                         line=dict(color="black", width=1.6),
                         hoverinfo="skip", showlegend=False))

# annotations
ann = []
bold = dict(family=FONT, color="black", weight="bold")
left_x = page_x_to_paper(68)
for val in (axis_max_nt, axis_min_nt):
    ann.append(dict(x=left_x, y=py(val, 0), xref="paper", yref="y",
                    text=str(val), showarrow=False, xanchor="right",
                    yanchor="middle", font=dict(size=20, **bold)))
right_x = page_x_to_paper(1325)
ann.append(dict(x=right_x, y=py(axis_max_nt, 0) + 3 * NT_PER_PX, xref="paper",
                yref="y", text="Rotn", showarrow=False, xanchor="left",
                yanchor="middle", font=dict(size=19, **bold)))
for k, lab in enumerate(rotation_labels):
    ann.append(dict(x=right_x, y=-k * PANEL_NT + 8 * NT_PER_PX, xref="paper",
                    yref="y", text=lab, showarrow=False, xanchor="left",
                    yanchor="middle", font=dict(size=20, **bold)))
for k, (lab, d) in enumerate(zip(month_labels, month_label_day)):
    if lab:
        ann.append(dict(x=d, y=-k * PANEL_NT + 194, xref="x", yref="y",
                        text=lab, showarrow=False, xanchor="center",
                        yanchor="middle", font=dict(size=24, **bold)))

fig.update_layout(
    width=W, height=H,
    margin=dict(l=M_L, r=M_R, t=M_T, b=M_B, autoexpand=False),
    paper_bgcolor="white", plot_bgcolor="white",
    shapes=shapes, annotations=ann, showlegend=False,
    xaxis=dict(range=[x_lo, 27], tickmode="array", tickvals=day_ticks,
               ticktext=[str(d) for d in day_ticks],
               ticks="outside", ticklen=11, tickwidth=1.6, tickcolor="black",
               showline=True, linecolor="black", linewidth=2.6,
               showgrid=False, zeroline=False, automargin=False,
               tickfont=dict(size=21, **bold),
               title=dict(text=x_title, font=dict(size=26, **bold), standoff=15)),
    yaxis=dict(range=[y_lo, y_hi], visible=False, showgrid=False,
               zeroline=False, automargin=False),
)

fig.write_html("out.html")
